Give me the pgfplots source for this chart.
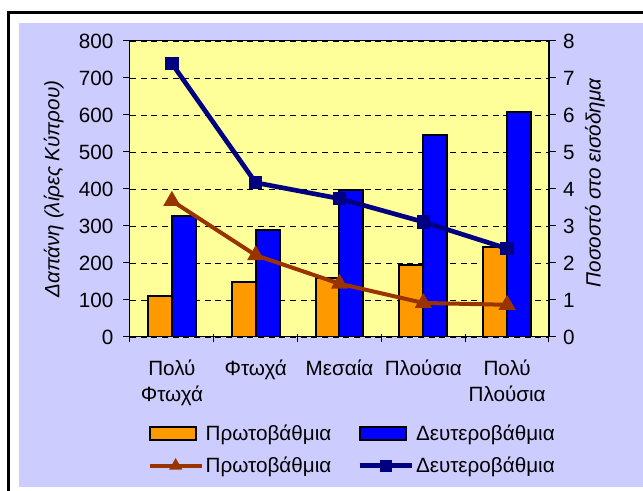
\documentclass[border=0pt]{standalone}
\usepackage{pgfplots}
\pgfplotsset{compat=1.18}
\usepackage{fontspec}
\setmainfont{Liberation Sans}
\definecolor{lav}{HTML}{CCCCFF}
\definecolor{plotbg}{HTML}{FFFF99}
\definecolor{barO}{HTML}{FF9900}
\definecolor{barB}{HTML}{0000FF}
\definecolor{lineR}{HTML}{993300}
\definecolor{lineB}{HTML}{000080}
\newcommand\chfont{\fontsize{15.5}{19.5}\selectfont}
\pgfplotsset{
  common/.style={
    at={(97.5pt,115.5pt)}, anchor=south west,
    width=314.25pt, height=222pt, scale only axis,
    xmin=-0.5, xmax=4.5,
    axis line style={line width=0.75pt},
    every tick/.style={black, line width=0.75pt},
    tick align=outside, major tick length=5pt,
    /pgf/number format/assume math mode=true,
    tick label style={font=\chfont},
    label style={font=\chfont\itshape},
  },
  barlegend/.style={legend image code/.code={\draw[##1, draw=black, line width=1.5pt] (0pt,-4.5pt) rectangle (35pt,5pt);}},
  linelegend/.style={legend image code/.code={\draw[##1] (0pt,0pt) -- (39pt,0pt); \path[##1] plot[mark size=2.8pt] coordinates {(19.5pt,0pt)};}},
}
\begin{document}
\begin{tikzpicture}
\fill[white] (0pt,0pt) rectangle (482.25pt,368.25pt);
\fill[lav] (14.25pt,3pt) rectangle (482.25pt,351pt);
\draw[black, line width=2.25pt] (6.375pt,-2pt) -- (6.375pt,358.875pt) -- (484pt,358.875pt);
\begin{axis}[common,
  ymin=0, ymax=800, ytick={0,100,...,800}, ytick pos=left,
  axis background/.style={fill=plotbg},
  ymajorgrids, grid style={black, dash pattern=on 4.5pt off 3.5pt, line width=0.6pt},
  xtick={0,1,2,3,4}, xtick pos=bottom,
  major x tick style={draw=none},
  minor xtick={-0.5,0.5,1.5,2.5,3.5,4.5},
  minor tick length=6pt,
  minor x tick style={yshift=2pt},
  xticklabels={{Πολύ\\Φτωχά},Φτωχά,Μεσαία,Πλούσια,{Πολύ\\Πλούσια}},
  xticklabel style={align=center, yshift=-9pt},
  yticklabel style={xshift=-4pt},
  ylabel={Δαπάνη (λίρες Κύπρου)},
  ylabel style={at={(axis description cs:-0.182,0.5)}, anchor=center},
]
\addplot[ybar, bar width=0.286, bar shift=-0.143, fill=barO, draw=black, line width=1.5pt]
  coordinates {(0,111) (1,149) (2,160) (3,194) (4,242)};
\addplot[ybar, bar width=0.286, bar shift=0.143, fill=barB, draw=black, line width=1.5pt]
  coordinates {(0,326) (1,289) (2,396) (3,546) (4,608)};
\end{axis}
\begin{axis}[common,
  ymin=0, ymax=8, ytick={0,1,...,8}, ytick pos=right,
  hide x axis,
  axis y line*=right,
  yticklabel style={xshift=2pt},
  ylabel={Ποσοστό στο εισόδημα},
  ylabel style={at={(axis description cs:1.110,0.52)}, anchor=center},
  legend columns=2,
  legend style={at={(axis description cs:0.032,-0.28)}, anchor=north west,
    draw=none, fill=none, font=\chfont,
    row sep=8pt,
    /tikz/every even column/.append style={column sep=18pt},
    nodes={inner sep=1.5pt}},
  legend cell align=left,
]
\addlegendimage{barlegend, fill=barO}
\addlegendentry{Πρωτοβάθμια}
\addlegendimage{barlegend, fill=barB}
\addlegendentry{Δευτεροβάθμια}
\addplot[lineR, line width=3pt, mark=triangle*, mark size=4.5pt, linelegend]
  coordinates {(0,3.68) (1,2.21) (2,1.44) (3,0.92) (4,0.87)};
\addlegendentry{Πρωτοβάθμια}
\addplot[lineB, line width=3.5pt, mark=square*, mark size=3.3pt, linelegend]
  coordinates {(0,7.39) (1,4.17) (2,3.74) (3,3.11) (4,2.39)};
\addlegendentry{Δευτεροβάθμια}
\end{axis}
\pgfresetboundingbox
\useasboundingbox (0pt,0pt) rectangle (482.25pt,368.25pt);
\end{tikzpicture}
\end{document}
